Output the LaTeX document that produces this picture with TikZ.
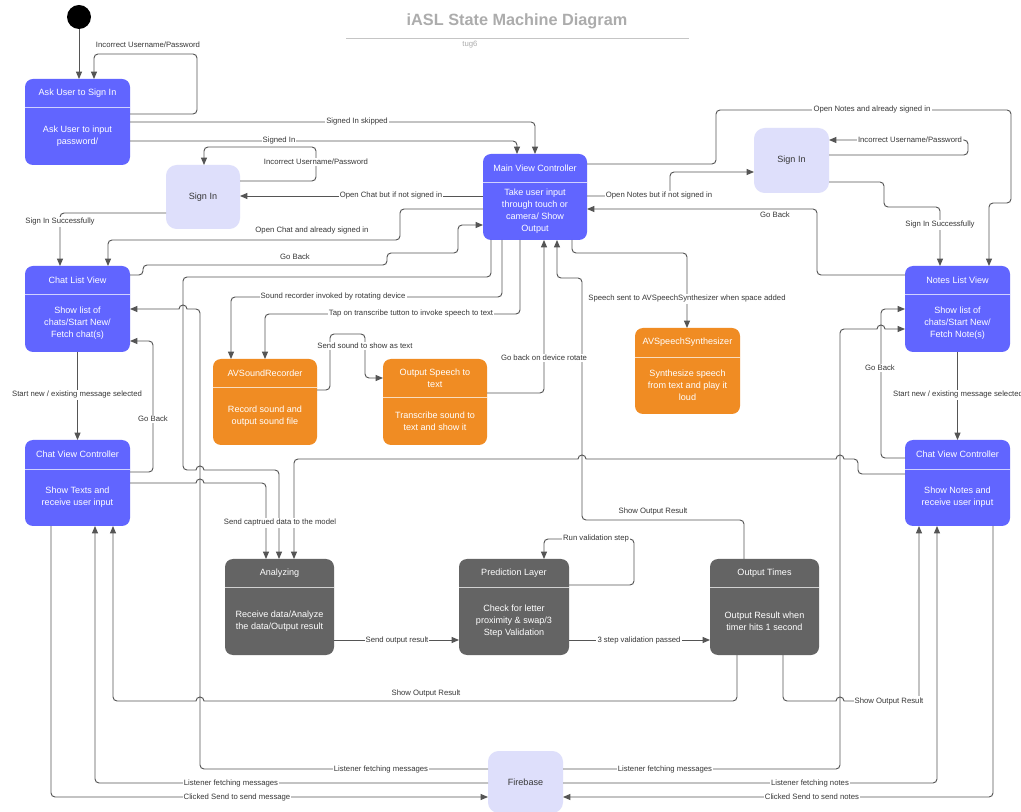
\documentclass[tikz,border=0pt]{standalone}
\usepackage{fontspec}
\setmainfont{Liberation Sans}
\usetikzlibrary{arrows.meta,fit,calc}

\definecolor{cblue}{RGB}{97,101,255}
\definecolor{corange}{RGB}{240,140,35}
\definecolor{cgray}{RGB}{100,100,100}
\definecolor{clav}{RGB}{222,223,251}
\definecolor{cline}{RGB}{85,85,85}
\definecolor{ctext}{RGB}{55,55,55}
\definecolor{ctitle}{RGB}{172,172,172}

\tikzset{
  conn/.style={draw=cline, line width=0.7pt, rounded corners=3pt},
  arr/.style={conn, -{Triangle[length=5.5pt,width=4.5pt]}},
  lbl/.style={font=\fontsize{5.8}{7}\selectfont, text=ctext, fill=white, inner sep=0.8pt},
  btxt/.style={font=\fontsize{6.8}{9}\selectfont, text=white, align=center, inner sep=0pt},
  stxt/.style={font=\fontsize{6.8}{9}\selectfont, text=ctext, align=center, inner sep=0pt},
}

\newcommand{\statebox}[9]{%
  \node[fit={(#2,#3) (#4,#5)}, inner sep=0pt, outer sep=0pt, rounded corners=6pt, fill=#7] (#1) {};
  \draw[draw=white!70!#7, line width=0.7pt] (#1.west |- 0,#6) -- (#1.east |- 0,#6);
  \node[btxt] (#1-t) at ({(#2+#4)/2},{(#3+#6)/2}) {#8};
  \node[btxt] (#1-b) at ({(#2+#4)/2},{(#6+#5)/2}) {#9};
}
\newcommand{\simplebox}[6]{%
  \node[fit={(#2,#3) (#4,#5)}, inner sep=0pt, outer sep=0pt, rounded corners=8pt, fill=clav] (#1) {};
  \node[stxt] (#1-t) at (#1.center) {#6};
}
\newcommand{\hopR}[2]{-- ({#1-9},#2) [sharp corners] -- ({#1-4},#2) arc[start angle=180,end angle=360,radius=4] -- ({#1+9},#2) [rounded corners=3pt]}
\newcommand{\hopL}[2]{-- ({#1+9},#2) [sharp corners] -- ({#1+4},#2) arc[start angle=0,end angle=-180,radius=4] -- ({#1-9},#2) [rounded corners=3pt]}

\begin{document}
\begin{tikzpicture}[x=0.75pt,y=-0.75pt]
\useasboundingbox[fill=white] (0,0) rectangle (1021,812);

% title
\node[font=\fontsize{12.2}{14}\selectfont\bfseries, text=ctitle, inner sep=0pt] (title) at (517,21) {iASL State Machine Diagram};
\draw[ctitle!70, line width=0.7pt] (346,38) -- (689,38);
\node[font=\fontsize{5.8}{7}\selectfont, text=ctitle, inner sep=0pt] (sub) at (470,45) {tug6};

% start
\node[circle, fill=black, minimum size=18pt, inner sep=0pt] (start) at (79,17) {};

% boxes
\statebox{ask}{25}{79}{130}{165}{107}{cblue}{Ask User to Sign In}{Ask User to input\\password/}
\simplebox{signL}{166}{165}{240}{229}{Sign In}
\statebox{mvc}{483}{154}{587}{240}{182}{cblue}{Main View Controller}{Take user input\\through touch or\\camera/ Show\\Output}
\simplebox{signR}{754}{128}{829}{193}{Sign In}
\statebox{chatL}{25}{266}{130}{352}{294}{cblue}{Chat List View}{Show list of\\chats/Start New/\\Fetch chat(s)}
\statebox{notesL}{905}{266}{1010}{352}{294}{cblue}{Notes List View}{Show list of\\chats/Start New/\\Fetch Note(s)}
\statebox{rec}{213}{359}{317}{445}{387}{corange}{AVSoundRecorder}{Record sound and\\output sound file}
\statebox{s2t}{383}{359}{487}{445}{397}{corange}{Output Speech to\\text}{Transcribe sound to\\text and show it}
\statebox{synth}{635}{328}{740}{414}{357}{corange}{AVSpeechSynthesizer}{Synthesize speech\\from text and play it\\loud}
\statebox{cvcL}{25}{440}{130}{526}{469}{cblue}{Chat View Controller}{Show Texts and\\receive user input}
\statebox{cvcR}{905}{440}{1010}{526}{469}{cblue}{Chat View Controller}{Show Notes and\\receive user input}
\statebox{analyze}{225}{559}{334}{655}{587}{cgray}{Analyzing}{Receive data/Analyze\\the data/Output result}
\statebox{pred}{459}{559}{569}{655}{587}{cgray}{Prediction Layer}{Check for letter\\proximity \& swap/3\\Step Validation}
\statebox{otimes}{710}{559}{819}{655}{587}{cgray}{Output Times}{Output Result when\\timer hits 1 second}
\simplebox{fb}{488}{751}{563}{813}{Firebase}

% connectors
\draw[arr] (start) -- (start |- ask.north);
\draw[arr] (ask.east |- 0,114) -- (197,114) -- (197,54) -- (94,54) -- (ask.north -| 94,0);
\draw[arr] (ask.east |- 0,122) -- (535,122) -- (mvc.north -| 535,0);
\draw[arr] (ask.east |- 0,141) -- (517,141) -- (mvc.north -| 517,0);
\draw[arr] (signL.east |- 0,181) -- (316,181) -- (316,147) -- (204,147) -- (signL.north -| 204,0);
\draw[arr] (mvc.west |- 0,196) -- (signL.east |- 0,196);
\draw[arr] (signL.west |- 0,213) -- (60,213) -- (chatL.north -| 60,0);
\draw[arr] (mvc.west |- 0,209) -- (400,209) -- (400,240) -- (108,240) -- (chatL.north -| 108,0);
\draw[arr] (chatL.east |- 0,275) -- (143,275) -- (143,265) -- (387,265) -- (387,253) -- (458,253) -- (458,225) -- (mvc.west |- 0,225);
\draw[arr] (mvc.south -| 491,0) -- (491,277) -- (183,277) -- (183,470) \hopR{200}{470} -- (279,470) -- (analyze.north -| 279,0);
\draw[arr] (cvcL.east |- 0,483) \hopR{200}{483} -- (266,483) -- (analyze.north -| 266,0);
\draw[arr] (cvcR.west |- 0,474) -- (858,474) -- (858,459) \hopL{840}{459} \hopL{582}{459} -- (294,459) -- (analyze.north -| 294,0);
\draw[arr] (mvc.south -| 502,0) -- (502,297) -- (231,297) -- (rec.north -| 231,0);
\draw[arr] (mvc.south -| 520,0) -- (520,314) -- (265,314) -- (rec.north -| 265,0);
\draw[arr] (rec.east |- 0,390) -- (330,390) -- (330,334) -- (365,334) -- (365,378) -- (s2t.west |- 0,378);
\draw[arr] (s2t.east |- 0,393) -- (544,393) -- (mvc.south -| 544,0);
\draw[arr] (otimes.north -| 744,0) -- (744,520) -- (582,520) -- (582,278) -- (557,278) -- (mvc.south -| 557,0);
\draw[arr] (mvc.south -| 572,0) -- (572,253) -- (687,253) -- (synth.north -| 687,0);
\draw[arr] (mvc.east |- 0,196) -- (670,196) -- (670,172) -- (signR.west |- 0,172);
\draw[arr] (notesL.west |- 0,275) -- (817,275) -- (817,209) -- (mvc.east |- 0,209);
\draw[arr] (mvc.east |- 0,164) -- (716,164) -- (716,110) -- (1011,110) -- (1011,203) -- (989,203) -- (notesL.north -| 989,0);
\draw[arr] (signR.east |- 0,155) -- (968,155) -- (968,140) -- (signR.east |- 0,140);
\draw[arr] (signR.east |- 0,182) -- (884,182) -- (884,207) -- (940,207) -- (notesL.north -| 940,0);
\draw[arr] (chatL.south) -- (cvcL.north);
\draw[arr] (cvcL.east |- 0,472) -- (153,472) -- (153,341) -- (chatL.east |- 0,341);
\draw[arr] (fb.west |- 0,769) -- (200,769) -- (200,309) \hopL{183}{309} -- (chatL.east |- 0,309);
\draw[arr] (cvcL.south -| 51,0) -- (51,797) -- (fb.west |- 0,797);
\draw[arr] (fb.west |- 0,783) -- (95,783) -- (cvcL.south -| 95,0);
\draw[arr] (otimes.south -| 737,0) -- (737,701) \hopL{200}{701} -- (113,701) -- (cvcL.south -| 113,0);
\draw[arr] (otimes.south -| 783,0) -- (783,701) \hopR{840}{701} -- (919,701) -- (cvcR.south -| 919,0);
\draw[arr] (fb.east |- 0,783) -- (937,783) -- (cvcR.south -| 937,0);
\draw[arr] (cvcR.south -| 993,0) -- (993,797) -- (fb.east |- 0,797);
\draw[arr] (fb.east |- 0,769) -- (840,769) -- (840,329) \hopR{881}{329} -- (notesL.west |- 0,329);
\draw[arr] (cvcR.west |- 0,458) -- (881,458) -- (881,309) -- (notesL.west |- 0,309);
\draw[arr] (notesL.south) -- (cvcR.north);
\draw[arr] (analyze.east |- 0,640) -- (pred.west |- 0,640);
\draw[arr] (pred.east |- 0,585) -- (634,585) -- (634,539) -- (544,539) -- (pred.north -| 544,0);
\draw[arr] (pred.east |- 0,640) -- (otimes.west |- 0,640);

% labels
\node[lbl, fill=none] (l2) at (148,45) {Incorrect Username/Password};
\node[lbl] (l3) at (357,122) {Signed In skipped};
\node[lbl] (l4) at (279,141) {Signed In};
\node[lbl] (l5) at (316,162) {Incorrect Username/Password};
\node[lbl] (l6) at (391,196) {Open Chat but if not signed in};
\node[lbl] (l7) at (60,222) {Sign In Successfully};
\node[lbl, fill=none] (l8) at (312,231) {Open Chat and already signed in};
\node[lbl, fill=none] (l9) at (295,257) {Go Back};
\node[lbl] (l12) at (280,523) {Send captrued data to the model};
\node[lbl] (l13) at (333,297) {Sound recorder invoked by rotating device};
\node[lbl] (l14) at (411,314) {Tap on transcribe tutton to invoke speech to text};
\node[lbl] (l15) at (365,346) {Send sound to show as text};
\node[lbl] (l16) at (544,358) {Go back on device rotate};
\node[lbl, fill=none] (l17) at (653,512) {Show Output Result};
\node[lbl] (l18) at (687,299) {Speech sent to AVSpeechSynthesizer when space added};
\node[lbl] (l19) at (659,196) {Open Notes but if not signed in};
\node[lbl, fill=none] (l20) at (775,215) {Go Back};
\node[lbl] (l21) at (872,110) {Open Notes and already signed in};
\node[lbl] (l22) at (910,140) {Incorrect Username/Password};
\node[lbl] (l23) at (940,225) {Sign In Successfully};
\node[lbl] (l24) at (77,395) {Start new / existing message selected};
\node[lbl] (l25) at (153,419) {Go Back};
\node[lbl] (l26) at (381,769) {Listener fetching messages};
\node[lbl] (l27) at (237,797) {Clicked Send to send message};
\node[lbl] (l28) at (231,783) {Listener fetching messages};
\node[lbl, fill=none] (l29) at (426,693) {Show Output Result};
\node[lbl] (l30) at (889,701) {Show Output Result};
\node[lbl] (l31) at (810,783) {Listener fetching notes};
\node[lbl] (l32) at (812,797) {Clicked Send to send notes};
\node[lbl] (l33) at (665,769) {Listener fetching messages};
\node[lbl] (l34) at (880,368) {Go Back};
\node[lbl] (l35) at (958,395) {Start new / existing message selected};
\node[lbl] (l36) at (397,640) {Send output result};
\node[lbl] (l37) at (596,539) {Run validation step};
\node[lbl] (l38) at (639,640) {3 step validation passed};
\end{tikzpicture}
\end{document}
